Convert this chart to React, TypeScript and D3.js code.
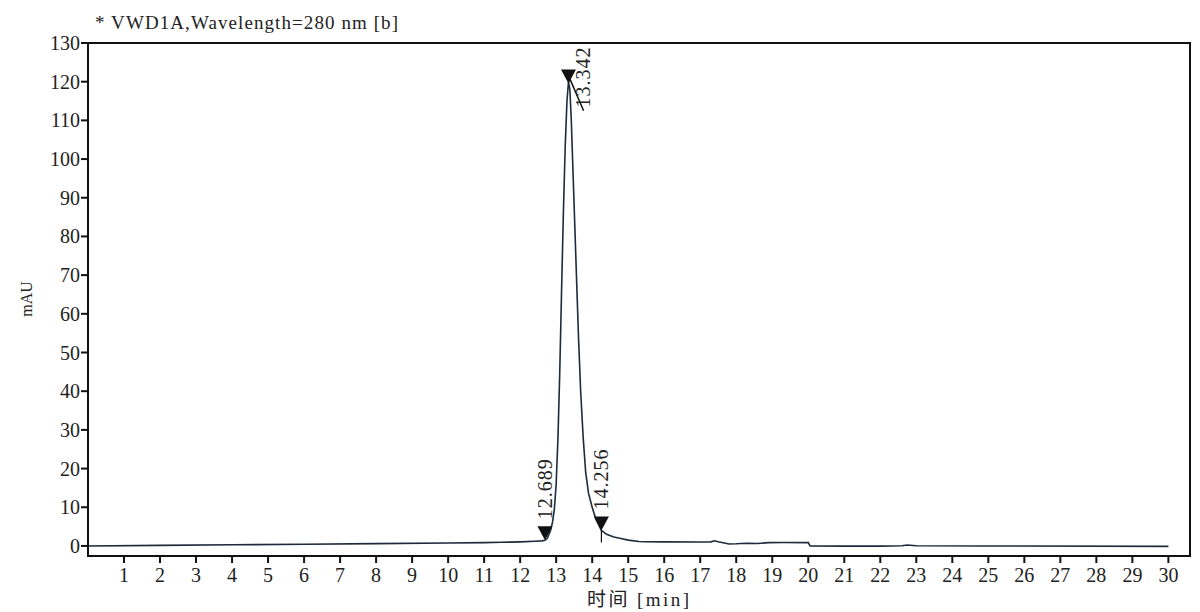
import * as d3 from "d3"

// chromatogram trace (min, mAU)
const times = [
  0, 2, 4, 6, 8, 10, 11, 11.5, 12.0, 12.4, 12.6, 12.689, 12.75, 12.8, 12.85,
  12.9, 12.95, 13.0, 13.05, 13.1, 13.15, 13.2, 13.25, 13.3, 13.342, 13.38,
  13.42, 13.47, 13.52, 13.57, 13.62, 13.68, 13.75, 13.82, 13.9, 14.0, 14.1,
  14.256, 14.4, 14.6, 14.8, 15.0, 15.3, 15.5, 16, 17, 17.3, 17.4, 17.5, 17.8,
  18.0, 18.3, 18.6, 18.9, 19.3, 20.0, 20.05, 21, 22, 22.6, 22.75, 23.0, 25, 30
]
const signal = [
  0.0, 0.15, 0.3, 0.45, 0.6, 0.75, 0.85, 0.95, 1.05, 1.2, 1.3, 1.45, 1.9, 3.0,
  4.2, 6.2, 9.5, 16, 28, 45, 66, 86, 103, 115, 120, 118, 110, 96, 82, 68, 54,
  40, 28, 19, 13.5, 10, 7, 4.0, 3.0, 2.3, 1.9, 1.5, 1.15, 1.1, 1.05, 1.0, 1.05,
  1.35, 1.1, 0.5, 0.55, 0.7, 0.65, 0.85, 0.9, 0.85, 0.0, -0.05, -0.05, 0.05,
  0.25, 0.05, 0.0, -0.1
]

// integration marks: retention time, signal at the mark, label
const peakTimes = [12.689, 13.342, 14.256]
const peakSignal = [1.45, 119.5, 4.0]
const peakLabels = ["12.689", "13.342", "14.256"]

const xTicks = d3.range(1, 31)
const yTicks = d3.range(0, 131, 10)

const title = "* VWD1A,Wavelength=280 nm [b]"
const xTitle = "时间 [min]"
const yTitle = "mAU"

const W = 1200
const H = 612
const left = 88
const right = 1190
const top = 43
const bottom = 556

const serif = "'Liberation Serif', 'DejaVu Serif', 'Noto Sans CJK SC', serif"
const traceColor = "#1d2b3c"

const App = () => {
  const x = d3.scaleLinear().domain([0, 30.6]).range([left, right])
  const y = d3.scaleLinear().domain([-2.6, 130]).range([bottom, top])

  const points = times.map((t, i) => [t, signal[i]] as [number, number])
  const line = d3
    .line<[number, number]>()
    .x(d => x(d[0]))
    .y(d => y(d[1]))

  // triangle pointing down with its tip at (px, py)
  const tri = (px: number, py: number) =>
    `M${px},${py} L${px - 7.5},${py - 14} L${px + 7.5},${py - 14} Z`

  return (
    <svg
      width={W}
      height={H}
      style={{ position: "absolute", left: 0, top: 0, background: "#fff" }}
    >
      <text
        x={95}
        y={29}
        fontFamily={serif}
        fontSize={19}
        textLength={303}
        lengthAdjust="spacing"
        fill="#222"
      >
        {title}
      </text>

      {/* trace */}
      <path
        d={line(points) || ""}
        fill="none"
        stroke={traceColor}
        strokeWidth={1.6}
      />

      {/* peak marks */}
      {peakTimes.map((t, i) => {
        const px = x(t)
        const py = y(peakSignal[i])
        const isApex = i === 1
        const labelBottom = isApex ? py + 24 : py - 21
        const labelX = px + (isApex ? 22 : 7)
        return (
          <g key={t}>
            <path d={tri(px, py)} fill="#111" />
            {isApex && (
              <line
                x1={px}
                y1={py - 8}
                x2={x(t + 0.42)}
                y2={y(peakSignal[i] - 7)}
                stroke="#111"
                strokeWidth={1.5}
              />
            )}
            {i === 2 && (
              <line
                x1={px}
                y1={py}
                x2={px}
                y2={y(0.9)}
                stroke="#111"
                strokeWidth={1.2}
              />
            )}
            <text
              transform={`translate(${labelX},${labelBottom}) rotate(-90)`}
              fontFamily={serif}
              fontSize={20}
              letterSpacing={1}
              fill="#222"
            >
              {peakLabels[i]}
            </text>
          </g>
        )
      })}

      {/* frame */}
      <rect
        x={left}
        y={top}
        width={right - left}
        height={bottom - top}
        fill="none"
        stroke="#111"
        strokeWidth={2}
      />

      {/* y axis */}
      {yTicks.map(v => (
        <g key={v}>
          <line x1={left - 7} x2={left} y1={y(v)} y2={y(v)} stroke="#111" strokeWidth={2} />
          <text
            x={left - 8}
            y={y(v)}
            dy="0.35em"
            textAnchor="end"
            fontFamily={serif}
            fontSize={20}
            fill="#222"
          >
            {v}
          </text>
        </g>
      ))}

      {/* x axis */}
      {xTicks.map(v => (
        <g key={v}>
          <line x1={x(v)} x2={x(v)} y1={bottom} y2={bottom + 7} stroke="#111" strokeWidth={2} />
          <text
            x={x(v)}
            y={582}
            textAnchor="middle"
            fontFamily={serif}
            fontSize={20}
            fill="#222"
          >
            {v}
          </text>
        </g>
      ))}

      <text
        x={638}
        y={606}
        textAnchor="middle"
        fontFamily={serif}
        fontSize={19}
        textLength={102}
        lengthAdjust="spacing"
        fill="#222"
      >
        {xTitle}
      </text>
      <text
        transform={`translate(32,299) rotate(-90)`}
        textAnchor="middle"
        fontFamily={serif}
        fontSize={16}
        fill="#222"
      >
        {yTitle}
      </text>
    </svg>
  )
}

export default App
